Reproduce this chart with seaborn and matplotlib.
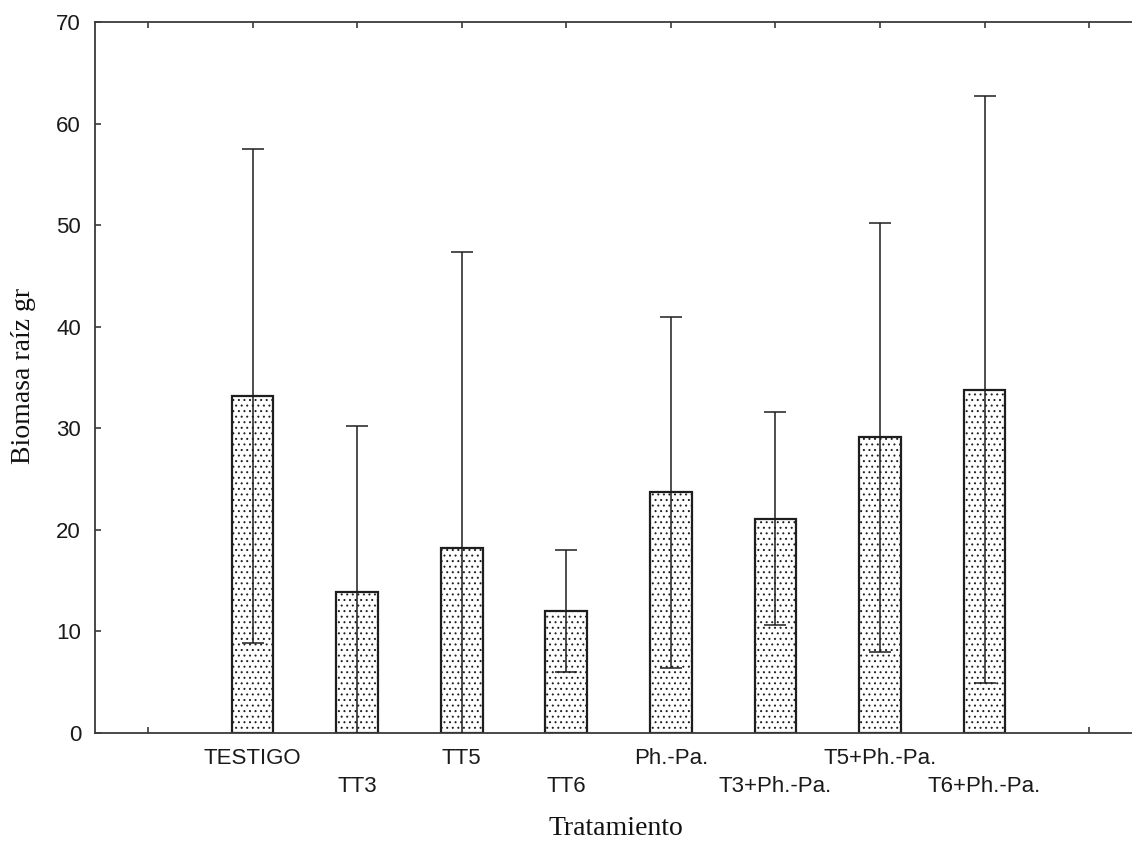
import matplotlib
matplotlib.use("Agg")
import matplotlib.pyplot as plt
import seaborn as sns
import pandas as pd
import numpy as np

# ---- data ----
categories = ["TESTIGO", "TT3", "TT5", "TT6", "Ph.-Pa.", "T3+Ph.-Pa.", "T5+Ph.-Pa.", "T6+Ph.-Pa."]
means = [33.2, 13.9, 18.2, 12.0, 23.7, 21.1, 29.1, 33.8]
half_ci = [24.3, 16.3, 29.2, 6.0, 17.3, 10.5, 21.1, 28.9]
y_ticks = [0, 10, 20, 30, 40, 50, 60, 70]
x_label = "Tratamiento"
y_label = "Biomasa raíz gr"

sns.set_style("white")
plt.rcParams["font.family"] = ["Liberation Sans", "DejaVu Sans"]
plt.rcParams["hatch.linewidth"] = 0.7

fig = plt.figure(figsize=(11.32, 8.41), dpi=100)
ax = fig.add_axes([95 / 1132, 108 / 841, 1037 / 1132, 711 / 841])

df = pd.DataFrame({"Tratamiento": categories, "Biomasa": means})
pad_l, pad_r = "", " "
order = [pad_l] + categories + [pad_r]

sns.barplot(data=df, x="Tratamiento", y="Biomasa", order=order, ax=ax,
            color="white", edgecolor="#1e1e1e", linewidth=1.6, width=0.4,
            hatch="...", errorbar=None, saturation=1)

xpos = [order.index(c) for c in categories]
ax.errorbar(xpos, means, yerr=half_ci, fmt="none", ecolor="#1e1e1e",
            elinewidth=1.1, capsize=7.9, capthick=1.1, zorder=5)

ax.set_xlim(-0.507, 9.41)
ax.set_ylim(0, 70)
ax.set_yticks(y_ticks)
ax.set_yticklabels([str(v) for v in y_ticks])

ax.set_xticks(range(len(order)))
ax.set_xticklabels(order)

spine_col = "#3a3a3a"
for s in ["left", "bottom", "top"]:
    ax.spines[s].set_visible(True)
    ax.spines[s].set_color(spine_col)
    ax.spines[s].set_linewidth(1.3)
ax.spines["right"].set_visible(False)

ax.tick_params(axis="y", direction="in", length=4, width=1.2, color=spine_col,
               labelsize=16, labelcolor="#1a1a1a", pad=10, left=True, right=False)
ax.tick_params(axis="x", direction="in", length=4, width=1.2, color=spine_col,
               labelsize=16, labelcolor="#1a1a1a", bottom=True, top=True)

for i, t in enumerate(ax.xaxis.get_major_ticks()):
    # alternate label rows: odd positions on upper row, even on lower row
    t.set_pad(11 if i % 2 == 1 else 31)

ax.set_xlabel(x_label, fontsize=20, family=["Liberation Serif", "DejaVu Serif"], color="#111111")
ax.set_ylabel(y_label, fontsize=20, family=["Liberation Serif", "DejaVu Serif"], color="#111111")
ax.xaxis.set_label_coords(0.502, -0.117)
ax.yaxis.set_label_coords(-0.057, 0.502)

fig.savefig("out.png", dpi=100)
